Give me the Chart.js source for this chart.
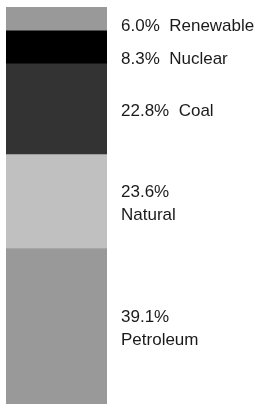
<!DOCTYPE html>
<html>
<head>
<meta charset="utf-8">
<script src="https://cdn.jsdelivr.net/npm/chart.js@4"></script>
<style>
  html, body { margin: 0; padding: 0; background: #fff; }
  #wrap { width: 263px; height: 404px; }
</style>
</head>
<body>
<div id="wrap"><canvas id="chartEnergi"></canvas></div>
<script>
// data, bottom of the stack first
const sources = ["Petroleum", "Natural", "Coal", "Nuclear", "Renewable"];
const shares = [39.1, 23.6, 22.8, 8.3, 6.0];
const colors = ["#999999", "#c0c0c0", "#333333", "#000000", "#999999"];
const twoLine = ["Petroleum", "Natural"];

const total = shares.reduce((a, b) => a + b, 0);

// labels to the right of each slice of the bar
const sideLabels = {
  id: "sideLabels",
  afterDatasetsDraw(chart) {
    const ctx = chart.ctx;
    const area = chart.chartArea;
    const x = area.right + 14;
    ctx.save();
    ctx.font = "17px 'Liberation Sans', Arial, sans-serif";
    ctx.fillStyle = "#1a1a1a";
    ctx.textBaseline = "alphabetic";
    let prev = area.top + 24 - 32.5;
    // walk from the top of the stack down
    for (let i = sources.length - 1; i >= 0; i--) {
      const bar = chart.getDatasetMeta(i).data[0];
      const mid = (bar.y + bar.base) / 2;
      const pct = shares[i].toFixed(1) + "%";
      if (twoLine.includes(sources[i])) {
        const y = Math.max(mid + 7 - 11.5, prev + 32.5);
        ctx.fillText(pct, x, y);
        ctx.fillText(sources[i], x, y + 23.3);
        prev = y + 23.3;
      } else {
        const y = Math.max(mid + 7, prev + 32.5);
        ctx.fillText(pct + "  " + sources[i], x, y);
        prev = y;
      }
    }
    ctx.restore();
  }
};

new Chart(document.getElementById("chartEnergi"), {
  type: "bar",
  data: {
    labels: [""],
    datasets: sources.map((s, i) => ({
      label: s,
      data: [shares[i]],
      backgroundColor: colors[i],
      borderWidth: 0,
      barPercentage: 1,
      categoryPercentage: 1
    }))
  },
  options: {
    responsive: true,
    maintainAspectRatio: false,
    animation: false,
    layout: { padding: { left: 6, top: 7, right: 156, bottom: 0 } },
    scales: {
      x: { stacked: true, display: false },
      y: { stacked: true, display: false, min: 0, max: total }
    },
    plugins: {
      legend: { display: false },
      tooltip: { enabled: false }
    }
  },
  plugins: [sideLabels]
});
</script>
</body>
</html>
